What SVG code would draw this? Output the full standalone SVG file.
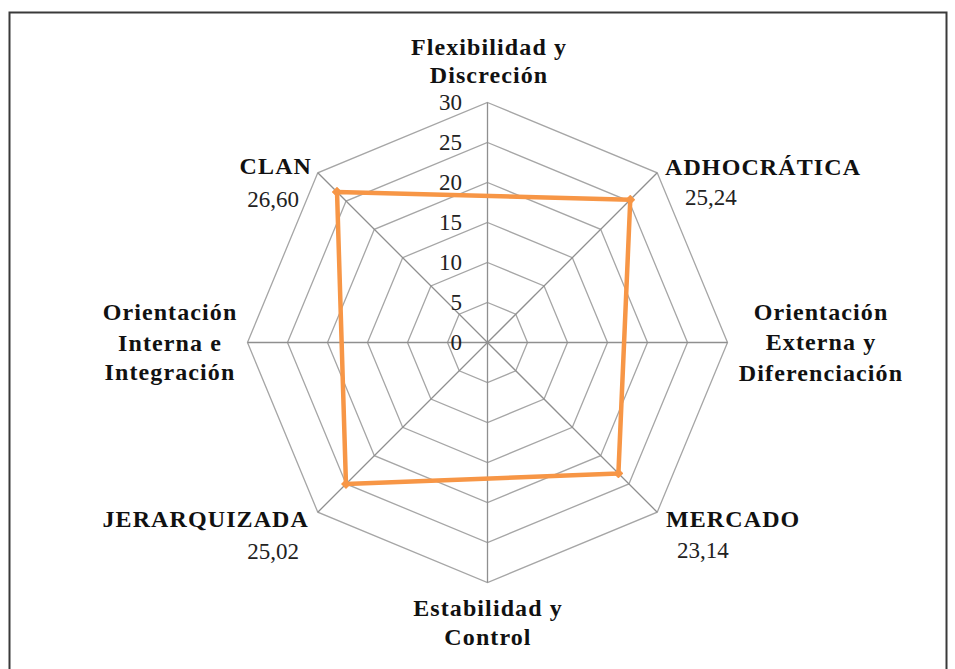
<svg xmlns="http://www.w3.org/2000/svg" width="955" height="669" viewBox="0 0 955 669">
<defs>
<style>
.ring{fill:none;stroke:#a6a6a6;stroke-width:1.3}
.spoke{stroke:#8f8f8f;stroke-width:1.3}
text{font-family:'Liberation Serif','Times New Roman',serif}
.tick{font-size:23px;fill:#222;text-anchor:end;dominant-baseline:central}
.cat{font-size:24px;font-weight:bold;fill:#111;letter-spacing:1.1px}
.val{font-size:23px;fill:#222}
.series{fill:none;stroke:#f79646;stroke-width:4.5;stroke-linejoin:round}
</style>
<marker id="dot" viewBox="-5 -5 10 10" markerWidth="10" markerHeight="10" markerUnits="userSpaceOnUse" refX="0" refY="0">
<path d="M0,-5 L5,0 L0,5 L-5,0 Z" fill="#f79646"/>
</marker>
</defs>
<rect x="0" y="0" width="955" height="669" fill="#ffffff"/>
<rect id="frame" x="9.5" y="12.5" width="937" height="670" fill="none" stroke="#3a3a3a" stroke-width="2"/>
<g id="grid" transform="translate(487.5,342.5)">
<polygon class="ring" points="0,-40 28.28,-28.28 40,0 28.28,28.28 0,40 -28.28,28.28 -40,0 -28.28,-28.28"/>
<polygon class="ring" points="0,-80 56.57,-56.57 80,0 56.57,56.57 0,80 -56.57,56.57 -80,0 -56.57,-56.57"/>
<polygon class="ring" points="0,-120 84.85,-84.85 120,0 84.85,84.85 0,120 -84.85,84.85 -120,0 -84.85,-84.85"/>
<polygon class="ring" points="0,-160 113.14,-113.14 160,0 113.14,113.14 0,160 -113.14,113.14 -160,0 -113.14,-113.14"/>
<polygon class="ring" points="0,-200 141.42,-141.42 200,0 141.42,141.42 0,200 -141.42,141.42 -200,0 -141.42,-141.42"/>
<polygon class="ring" points="0,-240 169.71,-169.71 240,0 169.71,169.71 0,240 -169.71,169.71 -240,0 -169.71,-169.71"/>
<line class="spoke" x1="0" y1="0" x2="0" y2="-240"/>
<line class="spoke" x1="0" y1="0" x2="169.71" y2="-169.71"/>
<line class="spoke" x1="0" y1="0" x2="240" y2="0"/>
<line class="spoke" x1="0" y1="0" x2="169.71" y2="169.71"/>
<line class="spoke" x1="0" y1="0" x2="0" y2="240"/>
<line class="spoke" x1="0" y1="0" x2="-169.71" y2="169.71"/>
<line class="spoke" x1="0" y1="0" x2="-240" y2="0"/>
<line class="spoke" x1="0" y1="0" x2="-169.71" y2="-169.71"/>
</g>
<g id="ticks">
<text class="tick" x="462" y="342.5">0</text>
<text class="tick" x="462" y="302.5">5</text>
<text class="tick" x="462" y="262.5">10</text>
<text class="tick" x="462" y="222.5">15</text>
<text class="tick" x="462" y="182.5">20</text>
<text class="tick" x="462" y="142.5">25</text>
<text class="tick" x="462" y="102.5">30</text>
</g>
<g id="connectors">
<polygon class="series" points="337.03,192.03 630.28,199.72 618.4,473.4 345.97,484.03" marker-start="url(#dot)" marker-mid="url(#dot)" marker-end="url(#dot)"/>
</g>
<g id="axis-top"><text class="cat" x="489" y="55" text-anchor="middle">Flexibilidad y</text><text class="cat" x="489" y="83" text-anchor="middle">Discreción</text></g>
<g id="axis-right"><text class="cat" x="821" y="320" text-anchor="middle">Orientación</text><text class="cat" x="821" y="350" text-anchor="middle">Externa y</text><text class="cat" x="821" y="381" text-anchor="middle">Diferenciación</text></g>
<g id="axis-bottom"><text class="cat" x="488" y="616" text-anchor="middle">Estabilidad y</text><text class="cat" x="488" y="645" text-anchor="middle">Control</text></g>
<g id="axis-left"><text class="cat" x="170" y="320" text-anchor="middle">Orientación</text><text class="cat" x="170" y="351" text-anchor="middle">Interna e</text><text class="cat" x="170" y="380" text-anchor="middle">Integración</text></g>
<g id="clan"><text class="cat" x="312" y="174" text-anchor="end">CLAN</text><text class="val" x="299" y="207" text-anchor="end">26,60</text></g>
<g id="adhocratica"><text class="cat" x="665" y="175">ADHOCRÁTICA</text><text class="val" x="685" y="205">25,24</text></g>
<g id="jerarquizada"><text class="cat" x="309" y="527" text-anchor="end">JERARQUIZADA</text><text class="val" x="299" y="559" text-anchor="end">25,02</text></g>
<g id="mercado"><text class="cat" x="666" y="527">MERCADO</text><text class="val" x="677" y="558">23,14</text></g>
</svg>
